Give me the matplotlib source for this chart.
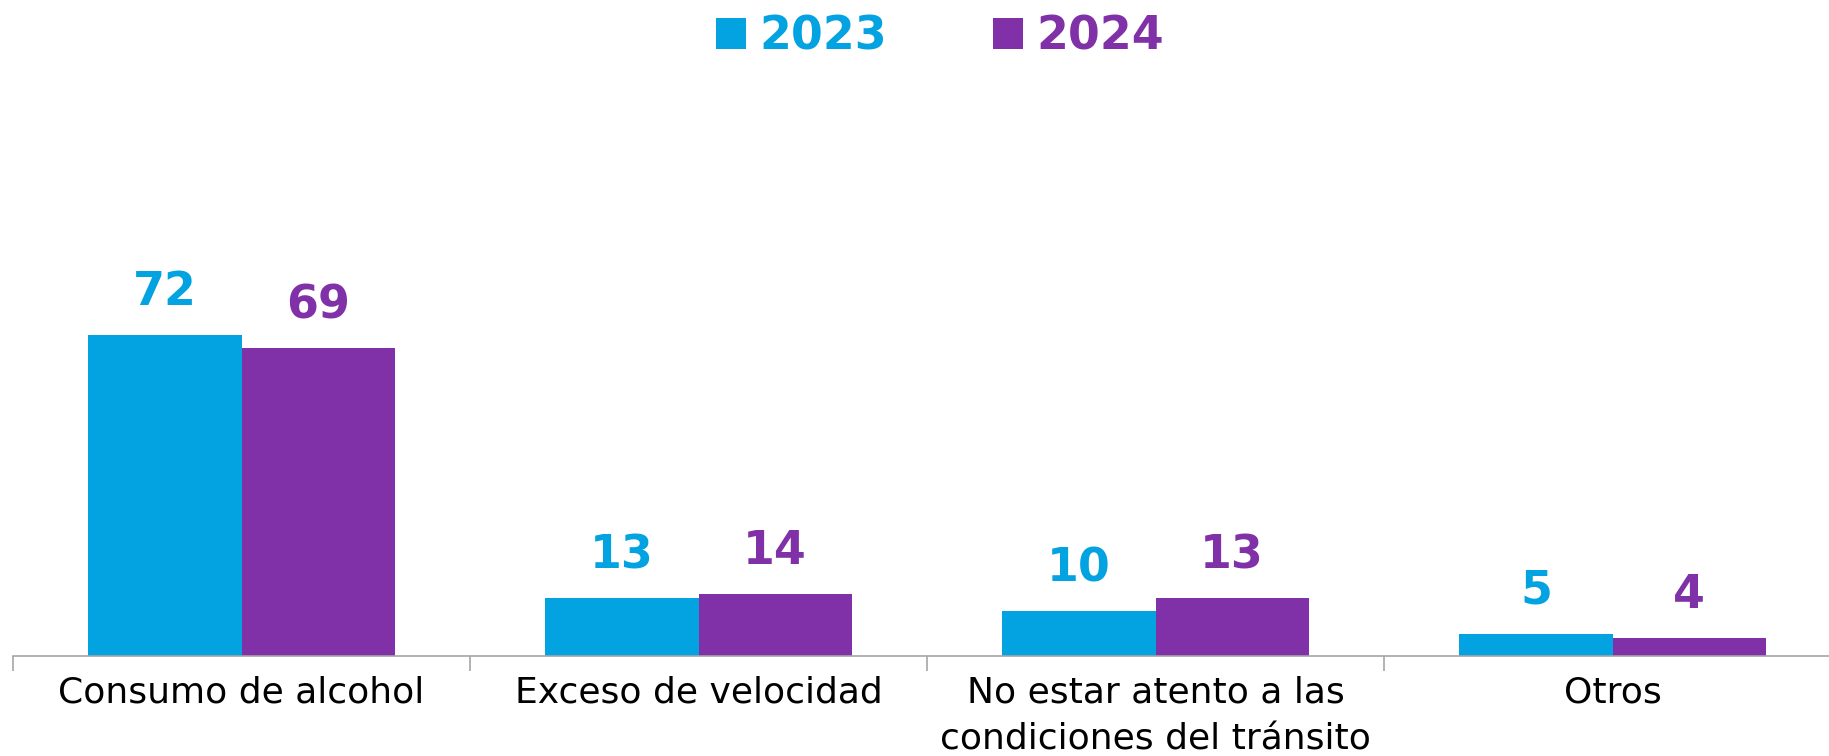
import numpy as np
import matplotlib
matplotlib.use('Agg')
import matplotlib.pyplot as plt

# colores
C_23 = '#03A2E0'
C_24 = '#8031A7'
C_AX = '#A6A6A6'

categorias = ['Consumo de alcohol', 'Exceso de velocidad',
              'No estar atento a las\ncondiciones del tránsito', 'Otros']
valores_2023 = [72, 13, 10, 5]
valores_2024 = [69, 14, 13, 4]
series = ['2023', '2024']

plt.rcParams['font.family'] = ['DejaVu Sans']

W, H = 1829, 756
fig = plt.figure(figsize=(W / 100, H / 100), dpi=100)
ax = fig.add_axes([13 / W, 100 / H, 1828 / W, 446 / H])

x = np.arange(len(categorias))
bw = 0.335
b1 = ax.bar(x - bw / 2, valores_2023, bw, color=C_23, label=series[0])
b2 = ax.bar(x + bw / 2, valores_2024, bw, color=C_24, label=series[1])

for bars, vals, c in [(b1, valores_2023, C_23), (b2, valores_2024, C_24)]:
    for r, v in zip(bars, vals):
        ax.annotate(f'{v}', (r.get_x() + r.get_width() / 2, v),
                    xytext=(0, 20), textcoords='offset pixels',
                    ha='center', va='bottom', fontsize=33, fontweight='bold',
                    color=c)

ax.set_xlim(-0.5, 3.5)
ax.set_ylim(0, 100)
ax.set_yticks([])
for s in ['top', 'right', 'left']:
    ax.spines[s].set_visible(False)
ax.spines['bottom'].set_color(C_AX)
ax.spines['bottom'].set_linewidth(1.2)

# separadores de categoría
ax.set_xticks(np.arange(-0.5, 3.0, 1.0))
ax.set_xticklabels([])
ax.tick_params(axis='x', which='major', length=11, color=C_AX, width=1.2)
ax.set_xticks(x, minor=True)
ax.set_xticklabels(categorias, minor=True, fontsize=26, linespacing=1.5)
ax.tick_params(axis='x', which='minor', length=0, pad=14)

leg = fig.legend(handles=[b1, b2], labels=series, loc='upper center',
                 bbox_to_anchor=(0.514, 1.035), ncol=2, frameon=False,
                 handlelength=0.65, handleheight=0.65, handletextpad=0.3,
                 columnspacing=2.3, prop={'size': 33, 'weight': 'bold'})
for t, c in zip(leg.get_texts(), [C_23, C_24]):
    t.set_color(c)

fig.savefig('out.png', dpi=100)
